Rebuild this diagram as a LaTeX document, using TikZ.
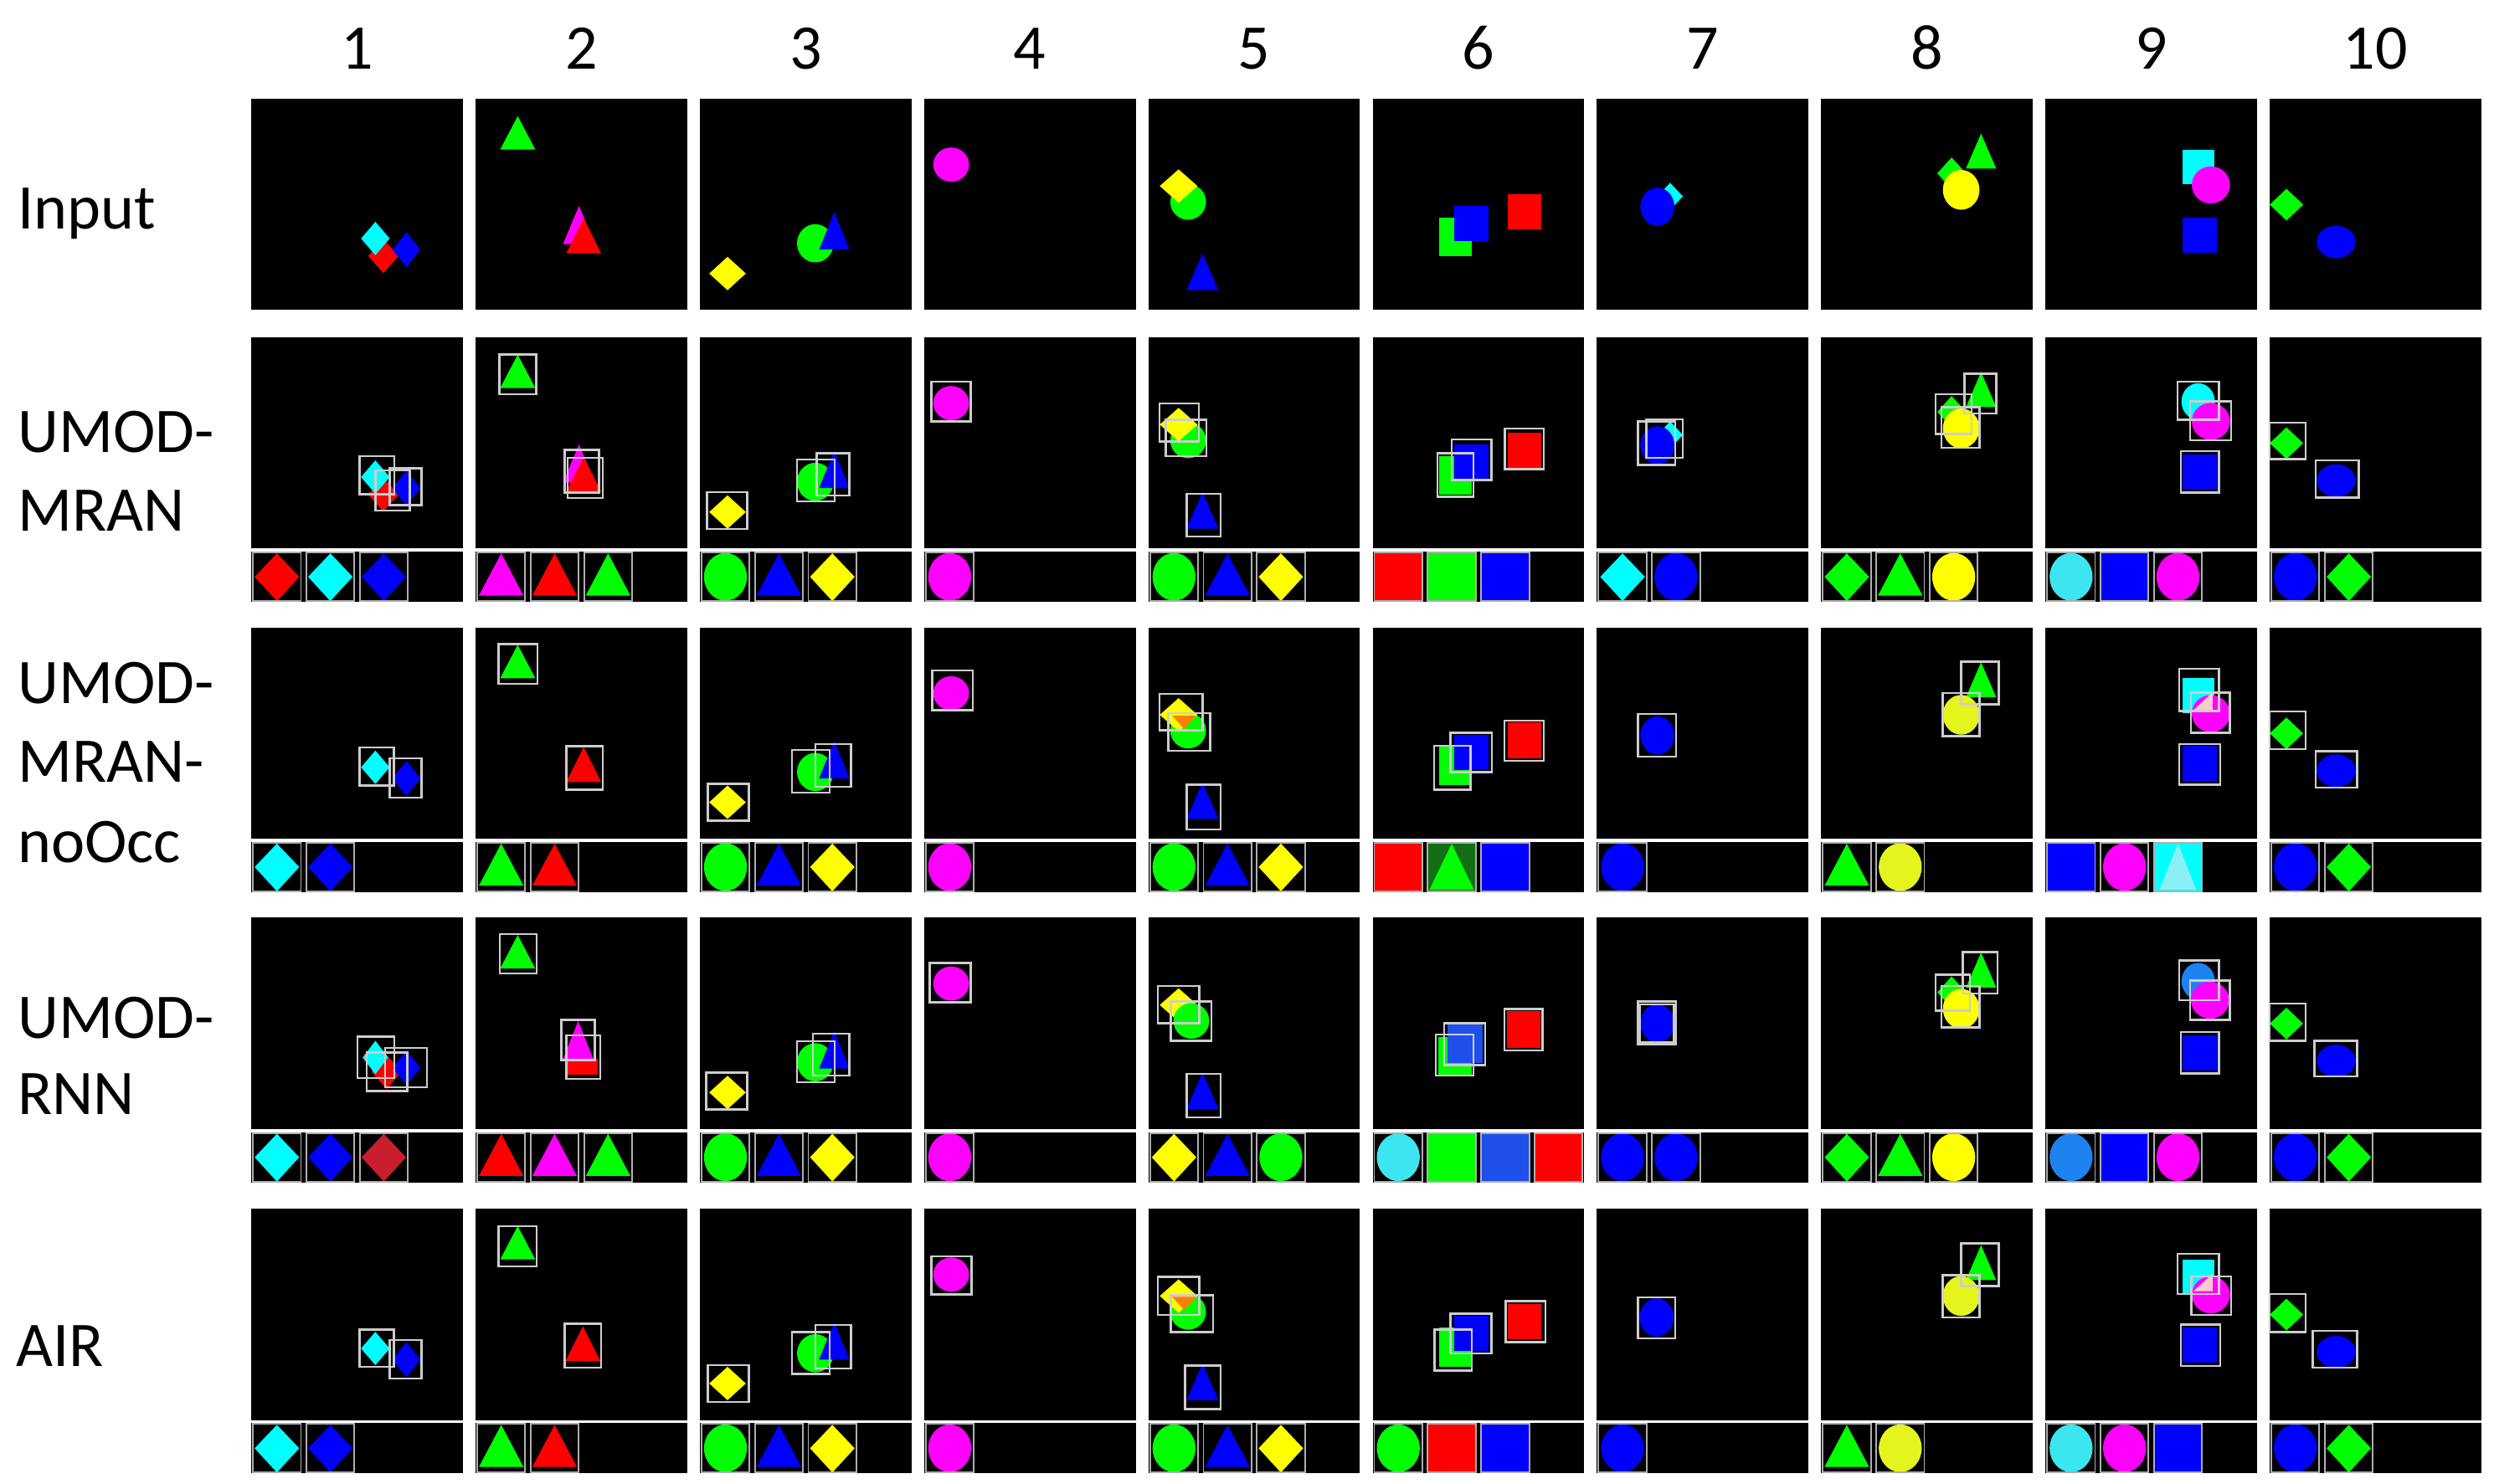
\documentclass[tikz,border=0pt]{standalone}
\usepackage{fontspec}
\setmainfont{Carlito}
\definecolor{rd}{RGB}{255,0,0}
\definecolor{gn}{RGB}{0,255,0}
\definecolor{bl}{RGB}{0,0,255}
\definecolor{cy}{RGB}{0,255,255}
\definecolor{mg}{RGB}{255,0,255}
\definecolor{yl}{RGB}{255,255,0}
\definecolor{ylg}{RGB}{228,245,30}
\definecolor{rdd}{RGB}{200,30,45}
\definecolor{blm}{RGB}{30,80,235}
\definecolor{lb}{RGB}{30,130,240}
\definecolor{cyl}{RGB}{60,230,240}
\definecolor{dgn}{RGB}{20,110,20}
\definecolor{boxc}{RGB}{205,205,205}
\definecolor{slotc}{RGB}{175,175,175}
\tikzset{
  boxline/.style={draw=boxc, line width=1.3pt},
  slotline/.style={draw=slotc, line width=1pt},
  lbl/.style={font=\fontsize{40}{48}\selectfont, anchor=base west, inner sep=0pt},
  num/.style={font=\fontsize{40}{48}\selectfont, anchor=base, inner sep=0pt}
}
% main-panel shapes: colour, cx, cy, w, h
\newcommand\shD[5]{\fill[#1] ({#2},{#3-0.5*#5}) -- ({#2+0.5*#4},{#3}) -- ({#2},{#3+0.5*#5}) -- ({#2-0.5*#4},{#3}) -- cycle;}
\newcommand\shT[5]{\fill[#1] ({#2},{#3-0.5*#5}) -- ({#2+0.5*#4},{#3+0.5*#5}) -- ({#2-0.5*#4},{#3+0.5*#5}) -- cycle;}
\newcommand\shE[5]{\fill[#1] (#2,#3) ellipse [x radius={0.5*#4pt}, y radius={0.5*#5pt}];}
\newcommand\shS[5]{\fill[#1] ({#2-0.5*#4},{#3-0.5*#5}) rectangle ({#2+0.5*#4},{#3+0.5*#5});}
\newcommand\bx[4]{\draw[boxline] (#1,#2) rectangle (#3,#4);}
% glimpse shapes
\newcommand\glD[1]{\fill[#1] (15.6,1) -- (29.6,15.75) -- (15.6,31) -- (1.6,15.75) -- cycle;}
\newcommand\glT[1]{\fill[#1] (15.6,1) -- (29.6,27.5) -- (1.6,27.5) -- cycle;}
\newcommand\glE[1]{\fill[#1] (15.6,15.75) ellipse [x radius=13.5pt, y radius=15pt];}
\newcommand\glS[1]{\fill[#1] (1,1) rectangle (30.2,30.5);}
\newcommand\glGT[1]{\fill[dgn] (1,1) rectangle (30.2,30.5);\fill[#1] (15.6,1) -- (29.6,30) -- (1.6,30) -- cycle;}
\newcommand\glCT[1]{\fill[#1] (1,1) rectangle (30.2,30.5);\fill[cyl!60!white] (15.6,1) -- (27,30) -- (4,30) -- cycle;}
\newcommand\gl[3]{\begin{scope}[shift={({0.5+33.6*#1},135)}]\csname gl#2\endcsname{#3}\draw[slotline] (0.5,0.5) rectangle (30.7,31);\end{scope}}
\newcommand\strp{\fill[black] (0,135) rectangle (133,166.5);}
\newenvironment{pnl}[2]{\begin{scope}[shift={({158+141*(#1-1)},#2)}]\fill[black] (0,0) rectangle (133,133);}{\end{scope}}
% input shapes per column
\newcommand\inA{\shD{rd}{83}{99}{19}{21.5}\shD{cy}{78}{88}{18}{21}\shD{bl}{97.5}{95}{17.5}{22}}
\newcommand\inB{\shT{gn}{26.5}{21.5}{22}{21}\shT{mg}{65}{79.5}{20}{24}\shT{rd}{68}{86.3}{22}{22}}
\newcommand\inC{\shD{yl}{17.4}{110}{23}{21}\shE{gn}{72.6}{91}{23}{24}\shT{bl}{84.5}{83.2}{19}{23.5}}
\newcommand\inD{\shE{mg}{17}{41.5}{22.5}{21.5}}
\newcommand\inE{\shE{gn}{25}{65}{22.5}{22.4}\shD{yl}{19}{55}{23.7}{21}\shT{bl}{34}{109}{20}{23}}
\newcommand\inF{\shS{gn}{52.2}{87}{20.4}{24.6}\shS{bl}{62}{78.6}{22}{22}\shS{rd}{95.5}{71.2}{21}{22.4}}
\newcommand\inG{\shD{cy}{46}{61.5}{16}{17}\shE{bl}{38}{68}{21.4}{24}}
\newcommand\inH{\shD{gn}{82}{47}{18}{20}\shT{gn}{100.5}{33}{19}{22}\shE{yl}{88}{57.4}{23}{25}}
\newcommand\inI{\shS{cy}{96}{43}{20}{22}\shE{mg}{104}{54.3}{24}{23.3}\shS{bl}{97}{85.8}{22}{22.3}}
\newcommand\inJ{\shD{gn}{10.5}{66.7}{21}{20}\shE{bl}{41.7}{90.2}{24.4}{20.5}}
\newcommand\orart{\fill[orange] (15,55.5) -- (30,55.5) -- (22.5,64) -- cycle;}
\newcommand\wart{\fill[white!80!red] (93,52) -- (105,41) -- (105,52) -- cycle;}
\begin{document}
\begin{tikzpicture}[x=1pt,y=-1pt]
\useasboundingbox (0,0) rectangle (1568,933);
\fill[white] (0,0) rectangle (1568,933);
% column numbers
\foreach \k in {1,...,10}{\node[num] (n\k) at ({158+141*(\k-1)+66.5},43.3) {\k};}
% row labels
\node[lbl] (lIn) at (11,143.8) {Input};
\node[lbl] (lMa) at (11,284.5) {UMOD-};
\node[lbl] (lMb) at (11,334) {MRAN};
\node[lbl] (lNa) at (11,442.4) {UMOD-};
\node[lbl] (lNb) at (11,492) {MRAN-};
\node[lbl] (lNc) at (11,542.6) {noOcc};
\node[lbl] (lRa) at (11,653) {UMOD-};
\node[lbl] (lRb) at (11,701) {RNN};
\node[lbl] (lAi) at (10,859) {AIR};
% ---------------- Input row
\begin{pnl}{1}{62}\inA\end{pnl}
\begin{pnl}{2}{62}\inB\end{pnl}
\begin{pnl}{3}{62}\inC\end{pnl}
\begin{pnl}{4}{62}\inD\end{pnl}
\begin{pnl}{5}{62}\inE\end{pnl}
\begin{pnl}{6}{62}\inF\end{pnl}
\begin{pnl}{7}{62}\inG\end{pnl}
\begin{pnl}{8}{62}\inH\end{pnl}
\begin{pnl}{9}{62}\inI\end{pnl}
\begin{pnl}{10}{62}\inJ\end{pnl}
% ---------------- UMOD-MRAN row
\begin{pnl}{1}{212}\inA\bx{68}{75}{90}{98.7}\bx{78}{83.7}{99.7}{109}\bx{87}{82.5}{107}{105.7}
 \strp\gl{0}{D}{rd}\gl{1}{D}{cy}\gl{2}{D}{bl}\end{pnl}
\begin{pnl}{2}{212}\inB\bx{15}{11}{38}{35.8}\bx{56}{70.8}{77.6}{97.8}\bx{58}{75.8}{80}{101.3}
 \strp\gl{0}{T}{mg}\gl{1}{T}{rd}\gl{2}{T}{gn}\end{pnl}
\begin{pnl}{3}{212}\inC\bx{4.5}{97.4}{29.8}{120.7}\bx{61}{77}{84.8}{103.4}\bx{73.5}{73}{94}{99.5}
 \strp\gl{0}{E}{gn}\gl{1}{T}{bl}\gl{2}{D}{yl}\end{pnl}
\begin{pnl}{4}{212}\inD\bx{4.5}{28}{29.3}{53}
 \strp\gl{0}{E}{mg}\end{pnl}
\begin{pnl}{5}{212}\inE\bx{7}{41.8}{31.6}{65.7}\bx{11}{52}{36.5}{75}\bx{24}{98.6}{45.5}{125.5}
 \strp\gl{0}{E}{gn}\gl{1}{T}{bl}\gl{2}{D}{yl}\end{pnl}
\begin{pnl}{6}{212}\inF\bx{40.7}{73}{63.3}{100.4}\bx{49.8}{64.3}{74.6}{89.9}\bx{83}{57.6}{107.7}{83}
 \strp\gl{0}{S}{rd}\gl{1}{S}{gn}\gl{2}{S}{bl}\end{pnl}
\begin{pnl}{7}{212}\inG\bx{25.8}{52.9}{49.3}{80.5}\bx{31}{51.6}{54}{76}
 \strp\gl{0}{D}{cy}\gl{1}{E}{bl}\end{pnl}
\begin{pnl}{8}{212}\inH\bx{90}{22.9}{110}{48}\bx{72}{36}{94.6}{61}\bx{75.5}{44}{99.5}{69.6}
 \strp\gl{0}{D}{gn}\gl{1}{T}{gn}\gl{2}{E}{yl}\end{pnl}
\begin{pnl}{9}{212}\shE{cy}{96}{40.5}{21}{23}\shE{mg}{104}{53}{24}{23.3}\shS{bl}{97}{84.8}{22}{22.3}
 \bx{83}{28}{109}{52}\bx{91}{40.5}{116.7}{65}\bx{85}{71.7}{109}{97.8}
 \strp\gl{0}{E}{cyl}\gl{1}{S}{bl}\gl{2}{E}{mg}\end{pnl}
\begin{pnl}{10}{212}\inJ\bx{0}{53.7}{22.6}{76.6}\bx{29}{77.5}{56}{101}
 \strp\gl{0}{E}{bl}\gl{1}{D}{gn}\end{pnl}
% ---------------- UMOD-MRAN-noOcc row
\begin{pnl}{1}{394.5}\shD{cy}{78}{88}{18}{21}\shD{bl}{97.5}{95}{17.5}{22}
 \bx{68}{75.6}{89.7}{99.5}\bx{87}{82.3}{107}{107}
 \strp\gl{0}{D}{cy}\gl{1}{D}{bl}\end{pnl}
\begin{pnl}{2}{394.5}\shT{gn}{26.5}{21.5}{22}{21}\shT{rd}{68}{86.3}{22}{22}
 \bx{14.4}{10.6}{39}{35.6}\bx{57}{74.7}{80}{102}
 \strp\gl{0}{T}{gn}\gl{1}{T}{rd}\end{pnl}
\begin{pnl}{3}{394.5}\inC\bx{5}{98.5}{30.7}{121.6}\bx{58}{77}{81.6}{104}\bx{72.6}{73.5}{95}{100.4}
 \strp\gl{0}{E}{gn}\gl{1}{T}{bl}\gl{2}{D}{yl}\end{pnl}
\begin{pnl}{4}{394.5}\inD\bx{5}{27}{30.7}{52}
 \strp\gl{0}{E}{mg}\end{pnl}
\begin{pnl}{5}{394.5}\inE\orart\bx{7}{41.8}{34}{64.7}\bx{12.6}{54}{38.8}{77.5}\bx{24}{99}{45.5}{127}
 \strp\gl{0}{E}{gn}\gl{1}{T}{bl}\gl{2}{D}{yl}\end{pnl}
\begin{pnl}{6}{394.5}\inF\bx{38.5}{74.4}{61.5}{102}\bx{48.9}{66.4}{75}{91}\bx{82.8}{58.8}{107.7}{84}
 \strp\gl{0}{S}{rd}\gl{1}{GT}{gn}\gl{2}{S}{bl}\end{pnl}
\begin{pnl}{7}{394.5}\shE{bl}{38}{68}{21.4}{24}\bx{25.8}{54.6}{49.8}{81.4}
 \strp\gl{0}{E}{bl}\end{pnl}
\begin{pnl}{8}{394.5}\shT{gn}{100.5}{33}{19}{22}\shE{ylg}{88}{55}{23}{25}
 \bx{88}{21.5}{111.7}{48.3}\bx{76.5}{41.4}{99.5}{68.5}
 \strp\gl{0}{T}{gn}\gl{1}{E}{ylg}\end{pnl}
\begin{pnl}{9}{394.5}\inI\wart\bx{84}{26}{109}{52.7}\bx{91.4}{41}{115.8}{66.4}\bx{84}{73.5}{110}{99}
 \strp\gl{0}{S}{bl}\gl{1}{E}{mg}\gl{2}{CT}{cy}\end{pnl}
\begin{pnl}{10}{394.5}\inJ\bx{0}{53}{22.6}{76.5}\bx{29}{78}{55}{100.8}
 \strp\gl{0}{E}{bl}\gl{1}{D}{gn}\end{pnl}
% ---------------- UMOD-RNN row
\begin{pnl}{1}{577}\shD{rd}{85}{97}{19}{21.5}\shD{bl}{97.5}{94.5}{17.5}{22}\shD{cy}{78}{88}{16}{21}
 \bx{66.7}{75}{90}{101}\bx{72.6}{85}{98}{109}\bx{84}{82}{110.5}{106.6}
 \strp\gl{0}{D}{cy}\gl{1}{D}{bl}\gl{2}{D}{rdd}\end{pnl}
\begin{pnl}{2}{577}\shT{gn}{26.5}{21.5}{22}{21}\fill[rd] (58,89) rectangle (77,99);\shT{mg}{64.5}{77}{19}{24}
 \bx{15.3}{10.3}{38.3}{35.2}\bx{54}{64.4}{75}{89.7}\bx{57}{74}{78.5}{101.6}
 \strp\gl{0}{T}{rd}\gl{1}{T}{mg}\gl{2}{T}{gn}\end{pnl}
\begin{pnl}{3}{577}\inC\bx{4}{97.5}{29.8}{120.7}\bx{61}{77.8}{84.8}{103.6}\bx{71}{73}{94}{99.3}
 \strp\gl{0}{E}{gn}\gl{1}{T}{bl}\gl{2}{D}{yl}\end{pnl}
\begin{pnl}{4}{577}\inD\bx{3.6}{28.6}{29.3}{53.4}
 \strp\gl{0}{E}{mg}\end{pnl}
\begin{pnl}{5}{577}\shD{yl}{19}{55}{23.7}{21}\shE{gn}{27}{65}{22.5}{22.4}\shT{bl}{34}{109}{20}{23}
 \bx{5.9}{43}{32}{66.5}\bx{14}{52.7}{39.7}{77.5}\bx{24}{98.4}{45.5}{125.8}
 \strp\gl{0}{D}{yl}\gl{1}{T}{bl}\gl{2}{E}{gn}\end{pnl}
\begin{pnl}{6}{577}\shS{gn}{52}{87}{21}{24}\shS{blm}{58}{79.5}{22}{24}\shS{rd}{95}{70.5}{21}{23}
 \bx{39.8}{73.5}{63.3}{99.3}\bx{45}{66.5}{70.6}{92.8}\bx{82.8}{57.4}{106.8}{83.6}
 \strp\gl{0}{E}{cyl}\gl{1}{S}{gn}\gl{2}{S}{blm}\gl{3}{S}{rd}\end{pnl}
\begin{pnl}{7}{577}\shE{bl}{38}{66.5}{21.4}{24}\bx{25.8}{52.7}{49.8}{80}\bx{27}{54.5}{48.5}{78.5}
 \strp\gl{0}{E}{bl}\gl{1}{E}{bl}\end{pnl}
\begin{pnl}{8}{577}\inH\bx{89}{21.6}{110.8}{47.8}\bx{72}{36}{93.6}{58.6}\bx{75.5}{43}{99.5}{69}
 \strp\gl{0}{D}{gn}\gl{1}{T}{gn}\gl{2}{E}{yl}\end{pnl}
\begin{pnl}{9}{577}\shE{lb}{96}{40}{21}{23}\shE{mg}{103.5}{52}{24}{23.3}\shS{bl}{97}{85}{22}{22.3}
 \bx{84}{27}{109}{52}\bx{91}{39.6}{115.8}{64.4}\bx{85}{72}{109}{98}
 \strp\gl{0}{E}{lb}\gl{1}{S}{bl}\gl{2}{E}{mg}\end{pnl}
\begin{pnl}{10}{577}\inJ\bx{0}{54}{22.6}{77.5}\bx{28}{77.5}{55}{100}
 \strp\gl{0}{E}{bl}\gl{1}{D}{gn}\end{pnl}
% ---------------- AIR row
\begin{pnl}{1}{760}\shD{cy}{78}{88}{18}{21}\shD{bl}{97.5}{95}{17.5}{22}
 \bx{68}{76}{89.7}{99.6}\bx{87}{82.6}{107}{107}
 \strp\gl{0}{D}{cy}\gl{1}{D}{bl}\end{pnl}
\begin{pnl}{2}{760}\shT{gn}{26.5}{21.5}{22}{21}\shT{rd}{67.5}{85}{22}{22}
 \bx{14.4}{11}{38.3}{36.5}\bx{56}{72.4}{79}{100}
 \strp\gl{0}{T}{gn}\gl{1}{T}{rd}\end{pnl}
\begin{pnl}{3}{760}\inC\bx{5}{98.4}{30.7}{121.6}\bx{58}{77.7}{81.6}{104}\bx{72.6}{73.3}{95}{100.5}
 \strp\gl{0}{E}{gn}\gl{1}{T}{bl}\gl{2}{D}{yl}\end{pnl}
\begin{pnl}{4}{760}\inD\bx{4.5}{30}{29.8}{54}
 \strp\gl{0}{E}{mg}\end{pnl}
\begin{pnl}{5}{760}\inE\orart\bx{5.9}{43}{32}{66.8}\bx{14}{54.5}{40.6}{77.7}\bx{23}{98.7}{45.5}{126}
 \strp\gl{0}{E}{gn}\gl{1}{T}{bl}\gl{2}{D}{yl}\end{pnl}
\begin{pnl}{6}{760}\inF\bx{39}{76}{62.4}{102}\bx{48.9}{66}{74.6}{91}\bx{83.7}{58.3}{108.6}{84}
 \strp\gl{0}{E}{gn}\gl{1}{S}{rd}\gl{2}{S}{bl}\end{pnl}
\begin{pnl}{7}{760}\shE{bl}{37.5}{68.5}{21.4}{24}\bx{25.8}{55.7}{49.3}{81.7}
 \strp\gl{0}{E}{bl}\end{pnl}
\begin{pnl}{8}{760}\shT{gn}{100.5}{34}{19}{22}\shE{ylg}{88}{55}{23}{25}
 \bx{88}{22}{111.7}{48.7}\bx{76.5}{41.8}{99.5}{68.5}
 \strp\gl{0}{T}{gn}\gl{1}{E}{ylg}\end{pnl}
\begin{pnl}{9}{760}\inI\wart\bx{83}{28.6}{109}{53.6}\bx{91.8}{42.7}{116.7}{66.8}\bx{85}{73}{110}{99}
 \strp\gl{0}{E}{cyl}\gl{1}{E}{mg}\gl{2}{S}{bl}\end{pnl}
\begin{pnl}{10}{760}\inJ\bx{0}{53.6}{22.6}{77.7}\bx{27}{77}{55}{100}
 \strp\gl{0}{E}{bl}\gl{1}{D}{gn}\end{pnl}
\end{tikzpicture}
\end{document}
